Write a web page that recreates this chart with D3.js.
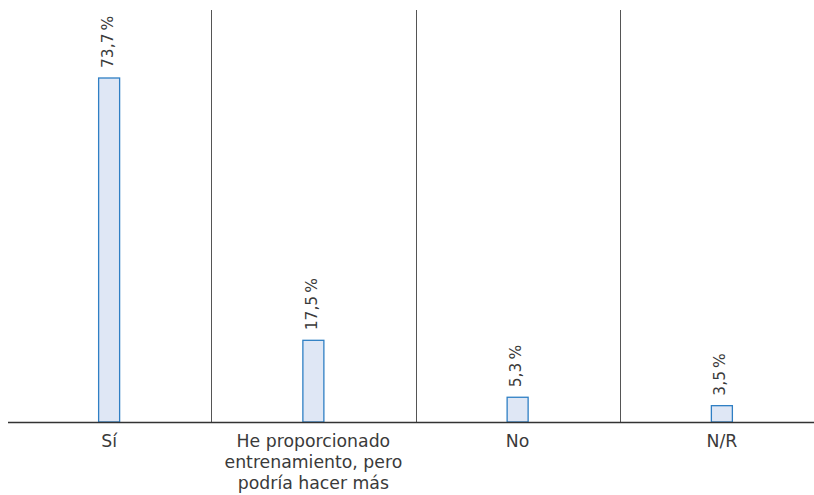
<!DOCTYPE html>
<html><head><meta charset="utf-8">
<script src="https://cdn.jsdelivr.net/npm/d3@7"></script>
<style>body{margin:0;background:#fff}svg{display:block}text{font-family:"DejaVu Sans","Noto Sans",sans-serif}</style>
</head><body>
<svg id="c" width="814" height="495"></svg>
<script>
const categories = ["Sí", "He proporcionado|entrenamiento, pero|podría hacer más", "No", "N/R"];
const values = [73.7, 17.5, 5.3, 3.5];
const valueLabels = ["73,7\u2009%", "17,5\u2009%", "5,3\u2009%", "3,5\u2009%"];

const svg = d3.select("#c");
const baseY = 422, topY = 10;
const x = d3.scaleBand().domain(categories).range([7, 824]);
const y = d3.scaleLinear().domain([0, 73.7]).range([baseY, 78]);
const bw = 21;

svg.selectAll("line.sep").data(categories.slice(1)).join("line")
  .attr("x1", d => Math.round(x(d)) + 0.5).attr("x2", d => Math.round(x(d)) + 0.5)
  .attr("y1", topY).attr("y2", baseY)
  .attr("stroke", "#555").attr("stroke-width", 1);

svg.selectAll("rect.bar").data(values).join("rect")
  .attr("x", (d, i) => x(categories[i]) + x.bandwidth() / 2 - bw / 2)
  .attr("y", d => y(d)).attr("width", bw).attr("height", d => baseY - y(d))
  .attr("fill", "#dfe7f5").attr("stroke", "#2f7fc4").attr("stroke-width", 1.3);

svg.append("line").attr("x1", 8).attr("x2", 814).attr("y1", baseY + 0.5).attr("y2", baseY + 0.5)
  .attr("stroke", "#333").attr("stroke-width", 1.3);

svg.selectAll("text.val").data(values).join("text")
  .attr("transform", (d, i) => `translate(${x(categories[i]) + x.bandwidth() / 2 - 2},${y(d) - 10}) rotate(-90)`)
  .attr("dy", "0.35em").attr("text-anchor", "start")
  .attr("font-size", 15.5).attr("fill", "#3a3a3a")
  .text((d, i) => valueLabels[i]);

categories.forEach((c, i) => {
  const t = svg.append("text").attr("x", x(c) + x.bandwidth() / 2).attr("y", 447)
    .attr("text-anchor", "middle").attr("font-size", 17.3).attr("fill", "#3a3a3a");
  c.split("|").forEach((line, j) => t.append("tspan").attr("x", x(c) + x.bandwidth() / 2).attr("dy", j ? 21 : 0).text(line));
});
</script>
</body></html>
